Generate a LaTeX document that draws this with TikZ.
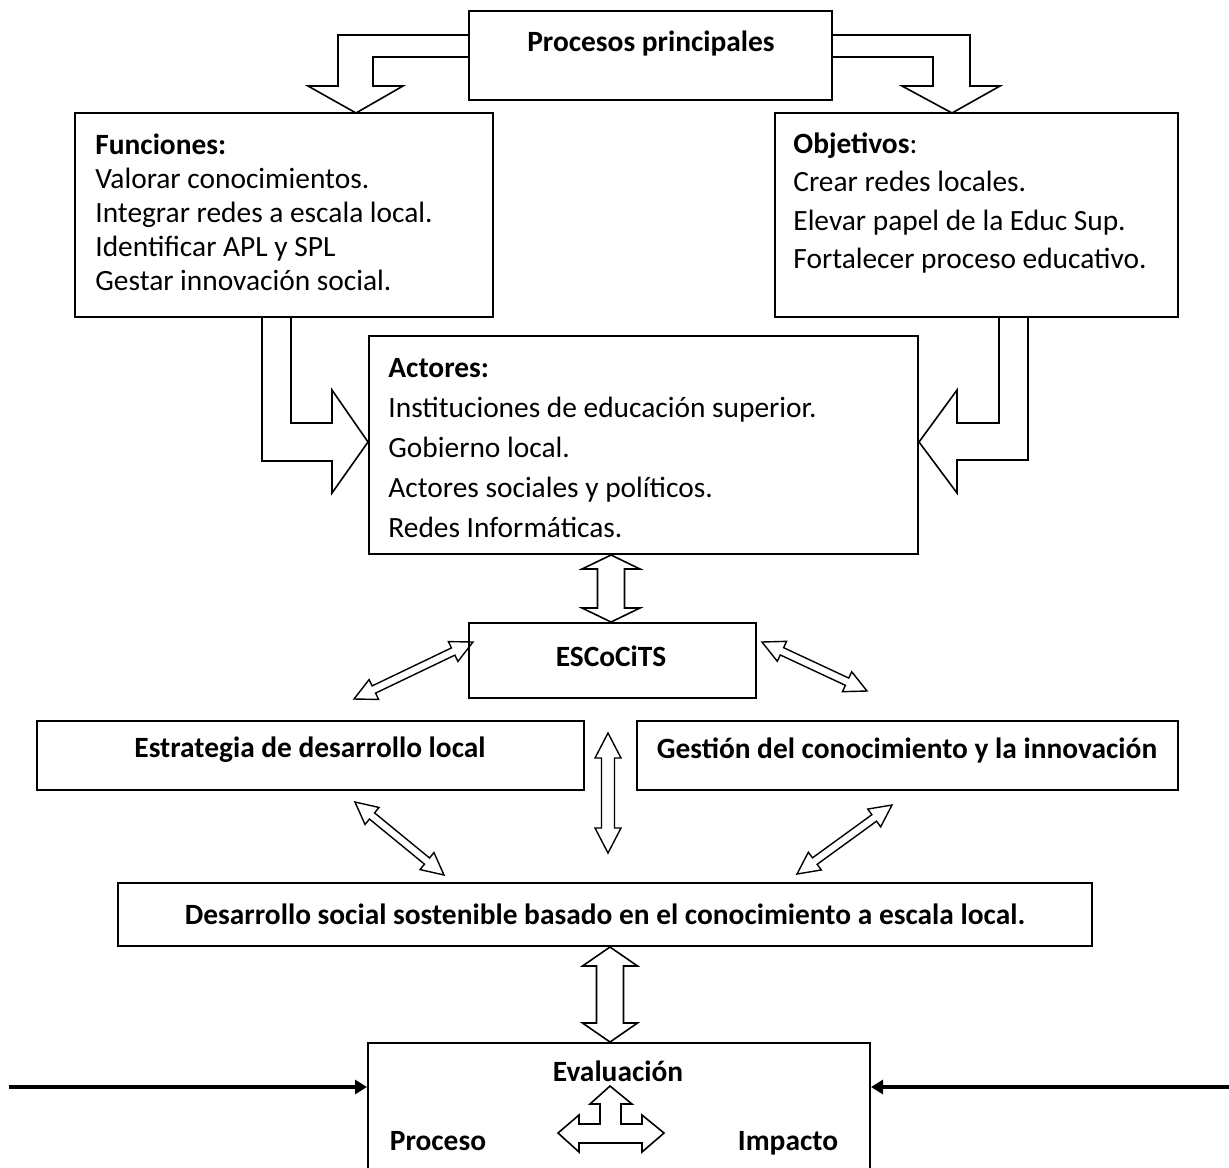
\documentclass[tikz,border=0pt]{standalone}
\usepackage{fontspec}
\setmainfont{Carlito}
\usetikzlibrary{calc,fit,arrows.meta}
\newcommand\hdarrow[6]{%
  \draw[#1] (#2) -- ($(#2)!#6!(#3)!#5!90:(#3)$) -- ($(#2)!#6!(#3)!#4!90:(#3)$)
    -- ($(#3)!#6!(#2)!#4!-90:(#2)$) -- ($(#3)!#6!(#2)!#5!-90:(#2)$) -- (#3)
    -- ($(#3)!#6!(#2)!#5!90:(#2)$) -- ($(#3)!#6!(#2)!#4!90:(#2)$)
    -- ($(#2)!#6!(#3)!#4!-90:(#3)$) -- ($(#2)!#6!(#3)!#5!-90:(#3)$) -- cycle;}
\begin{document}
\begin{tikzpicture}[x=0.5pt,y=-0.5pt,
  box/.style={draw,line width=1pt,inner sep=0pt},
  blockarrow/.style={draw,line width=0.8pt,line join=miter},
  thinarrow/.style={draw,line width=0.7pt,line join=miter},
  lbl/.style={font=\fontsize{14.7}{17}\selectfont\bfseries,inner sep=0pt},
  body/.style={inner sep=0pt,align=left,anchor=north west}]
\useasboundingbox (0,0) rectangle (1229,1167);
\clip (0,0) rectangle (1229,1167);
% boxes
\node[box,fit={(469,11)(832,100)}] (pp) {};
\node[box,fit={(75,113)(493,317)}] (fun) {};
\node[box,fit={(775,113)(1178,317)}] (obj) {};
\node[box,fit={(369,336)(918,554)}] (act) {};
\node[box,fit={(469,623)(756,698)}] (esc) {};
\node[box,fit={(37,721)(584,790)}] (est) {};
\node[box,fit={(637,721)(1178,790)}] (ges) {};
\node[box,fit={(118,883)(1092,946)}] (des) {};
\node[box,fit={(368,1043)(870,1190)}] (eva) {};
% texts
\node[lbl] (ppT) at (651,43) {Procesos principales};
\node[body,font=\fontsize{14.7}{17}\selectfont] (funT) at (95,133)
  {\textbf{Funciones:}\\Valorar conocimientos.\\Integrar redes a escala local.\\Identificar APL y SPL\\Gestar innovación social.};
\node[body,font=\fontsize{14.7}{19.3}\selectfont] (objT) at (793,132)
  {\textbf{Objetivos}:\\Crear redes locales.\\Elevar papel de la Educ Sup.\\Fortalecer proceso educativo.};
\node[body,font=\fontsize{14.7}{20}\selectfont] (actT) at (388,358)
  {\textbf{Actores:}\\Instituciones de educación superior.\\Gobierno local.\\Actores sociales y políticos.\\Redes Informáticas.};
\node[lbl] (escT) at (611,656) {ESCoCiTS};
\node[lbl] (estT) at (310,750) {Estrategia de desarrollo local};
\node[lbl] (gesT) at (907,750) {Gestión del conocimiento y la innovación};
\node[lbl] (desT) at (605,914) {Desarrollo social sostenible basado en el conocimiento a escala local.};
\node[lbl,anchor=base] (evaT) at (618,1081) {Evaluación};
\node[lbl,anchor=base] (proT) at (438,1150) {Proceso};
\node[lbl,anchor=base] (impT) at (788,1150) {Impacto};
% bent block arrows
\draw[blockarrow] (pp.west |- 0,35) -- (338,35) -- (338,86) -- (308,86) -- (356,113)
  -- (403,86) -- (373,86) -- (373,57) -- (pp.west |- 0,57);
\draw[blockarrow] (pp.east |- 0,35) -- (970,35) -- (970,86) -- (1000,86) -- (952,113)
  -- (902,86) -- (933,86) -- (933,57) -- (pp.east |- 0,57);
\draw[blockarrow] (262,0 |- fun.south) -- (262,461) -- (332,461) -- (332,493) -- (act.west |- 0,442)
  -- (332,390) -- (332,423) -- (291,423) -- (291,0 |- fun.south);
\draw[blockarrow] (1028,0 |- obj.south) -- (1028,460) -- (957,460) -- (957,493) -- (act.east |- 0,442)
  -- (957,390) -- (957,423) -- (999,423) -- (999,0 |- obj.south);
% double arrows
\coordinate (v1a) at (611,0 |- act.south);
\coordinate (v1b) at (611,0 |- esc.north);
\hdarrow{blockarrow}{v1a}{v1b}{6.75pt}{14.5pt}{7pt}
\coordinate (d1a) at (473,642);
\coordinate (d1b) at (354,699);
\hdarrow{thinarrow}{d1a}{d1b}{2pt}{5.5pt}{11pt}
\coordinate (d2a) at (762,642);
\coordinate (d2b) at (867,691);
\hdarrow{thinarrow}{d2a}{d2b}{2pt}{5.5pt}{11pt}
\coordinate (v2a) at (608,733);
\coordinate (v2b) at (608,853);
\hdarrow{thinarrow}{v2a}{v2b}{3.25pt}{6.5pt}{12.5pt}
\coordinate (d3a) at (355,802);
\coordinate (d3b) at (444,875);
\hdarrow{thinarrow}{d3a}{d3b}{2pt}{5.5pt}{11pt}
\coordinate (d4a) at (892,805);
\coordinate (d4b) at (797,874);
\hdarrow{thinarrow}{d4a}{d4b}{2pt}{5.5pt}{11pt}
\coordinate (v3a) at (610,0 |- des.south);
\coordinate (v3b) at (610,0 |- eva.north);
\hdarrow{blockarrow}{v3a}{v3b}{6.75pt}{13.75pt}{9.5pt}
% three-way arrow
\draw[blockarrow] (610,1086) -- (632,1104) -- (621,1104) -- (621,1124) -- (642,1124) -- (642,1115)
  -- (664,1133) -- (642,1152) -- (642,1143) -- (579,1143) -- (579,1152) -- (558,1133)
  -- (579,1115) -- (579,1124) -- (600,1124) -- (600,1104) -- (590,1104) -- cycle;
% black arrows
\coordinate (la) at (9,1087);
\coordinate (ra) at (1229,1087);
\draw[line width=2pt,-{Triangle[length=6pt,width=7pt]}] (la) -- (eva.west |- la);
\draw[line width=2pt,-{Triangle[length=6pt,width=7pt]}] (ra) -- (eva.east |- ra);
\end{tikzpicture}
\end{document}
